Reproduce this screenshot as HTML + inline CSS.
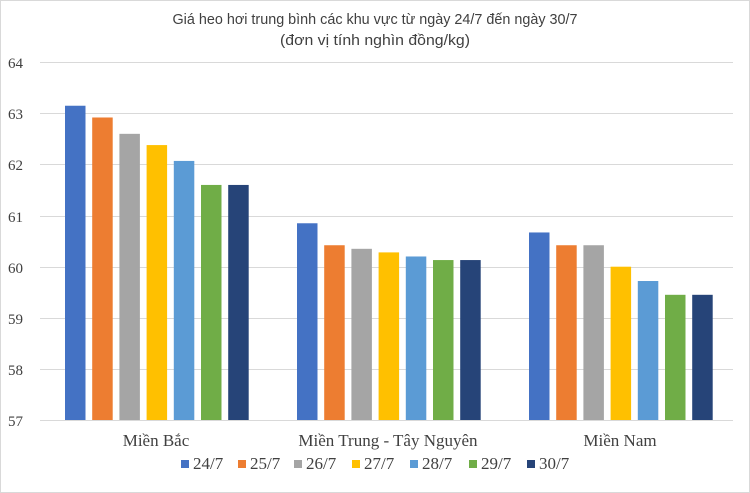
<!DOCTYPE html>
<html><head><meta charset="utf-8"><style>
body{margin:0;background:#fff}
svg{display:block;font-family:"Liberation Serif",serif}
</style></head><body>
<svg width="750" height="493" viewBox="0 0 750 493">
<rect x="0.5" y="0.5" width="749" height="492" fill="#fff" stroke="#d9d9d9"/>
<text x="375" y="24" text-anchor="middle" font-family="Liberation Sans,sans-serif" font-size="15" fill="#404040" textLength="405" lengthAdjust="spacingAndGlyphs">Giá heo hơi trung bình các khu vực từ ngày 24/7 đến ngày 30/7</text>
<text x="375" y="45" text-anchor="middle" font-family="Liberation Sans,sans-serif" font-size="15" fill="#404040" textLength="190" lengthAdjust="spacingAndGlyphs">(đơn vị tính nghìn đồng/kg)</text>
<g stroke="#d9d9d9" stroke-width="1">
<line x1="40" x2="733" y1="62.5" y2="62.5"/><line x1="40" x2="733" y1="113.5" y2="113.5"/>
<line x1="40" x2="733" y1="164.5" y2="164.5"/><line x1="40" x2="733" y1="216.5" y2="216.5"/>
<line x1="40" x2="733" y1="267.5" y2="267.5"/><line x1="40" x2="733" y1="318.5" y2="318.5"/>
<line x1="40" x2="733" y1="369.5" y2="369.5"/><line x1="40" x2="733" y1="420.5" y2="420.5"/>
</g>
<g font-size="15" fill="#404040">
<text x="8" y="68">64</text><text x="8" y="119">63</text><text x="8" y="170">62</text><text x="8" y="222">61</text>
<text x="8" y="273">60</text><text x="8" y="324">59</text><text x="8" y="375">58</text><text x="8" y="426">57</text>
</g>
<g id="bars"></g>
<g font-size="17" fill="#404040" text-anchor="middle">
<text x="156" y="446">Miền Bắc</text><text x="388" y="446">Miền Trung - Tây Nguyên</text><text x="620" y="446">Miền Nam</text>
</g>
<g font-size="17" fill="#404040">
<rect x="181" y="460" width="8" height="8" fill="#4472c4"/><text x="193" y="469">24/7</text>
<rect x="238" y="460" width="8" height="8" fill="#ed7d31"/><text x="250" y="469">25/7</text>
<rect x="294" y="460" width="8" height="8" fill="#a5a5a5"/><text x="306" y="469">26/7</text>
<rect x="352" y="460" width="8" height="8" fill="#ffc000"/><text x="364" y="469">27/7</text>
<rect x="410" y="460" width="8" height="8" fill="#5b9bd5"/><text x="422" y="469">28/7</text>
<rect x="469" y="460" width="8" height="8" fill="#70ad47"/><text x="481" y="469">29/7</text>
<rect x="527" y="460" width="8" height="8" fill="#264478"/><text x="539" y="469">30/7</text>
</g>
</svg>
<script>
var cols=["#4472c4","#ed7d31","#a5a5a5","#ffc000","#5b9bd5","#70ad47","#264478"];
var data=[[63.15,62.92,62.6,62.38,62.07,61.6,61.6],[60.85,60.42,60.35,60.28,60.2,60.13,60.13],[60.67,60.42,60.42,60.0,59.72,59.45,59.45]];
var starts=[65,297,529],g=document.getElementById("bars"),s="";
data.forEach(function(d,i){d.forEach(function(v,j){var y=420-(v-57)*51.1;s+='<rect x="'+(starts[i]+j*27.2)+'" y="'+y+'" width="20.5" height="'+(420-y)+'" fill="'+cols[j]+'"/>';});});
g.innerHTML=s;
</script>
</body></html>
